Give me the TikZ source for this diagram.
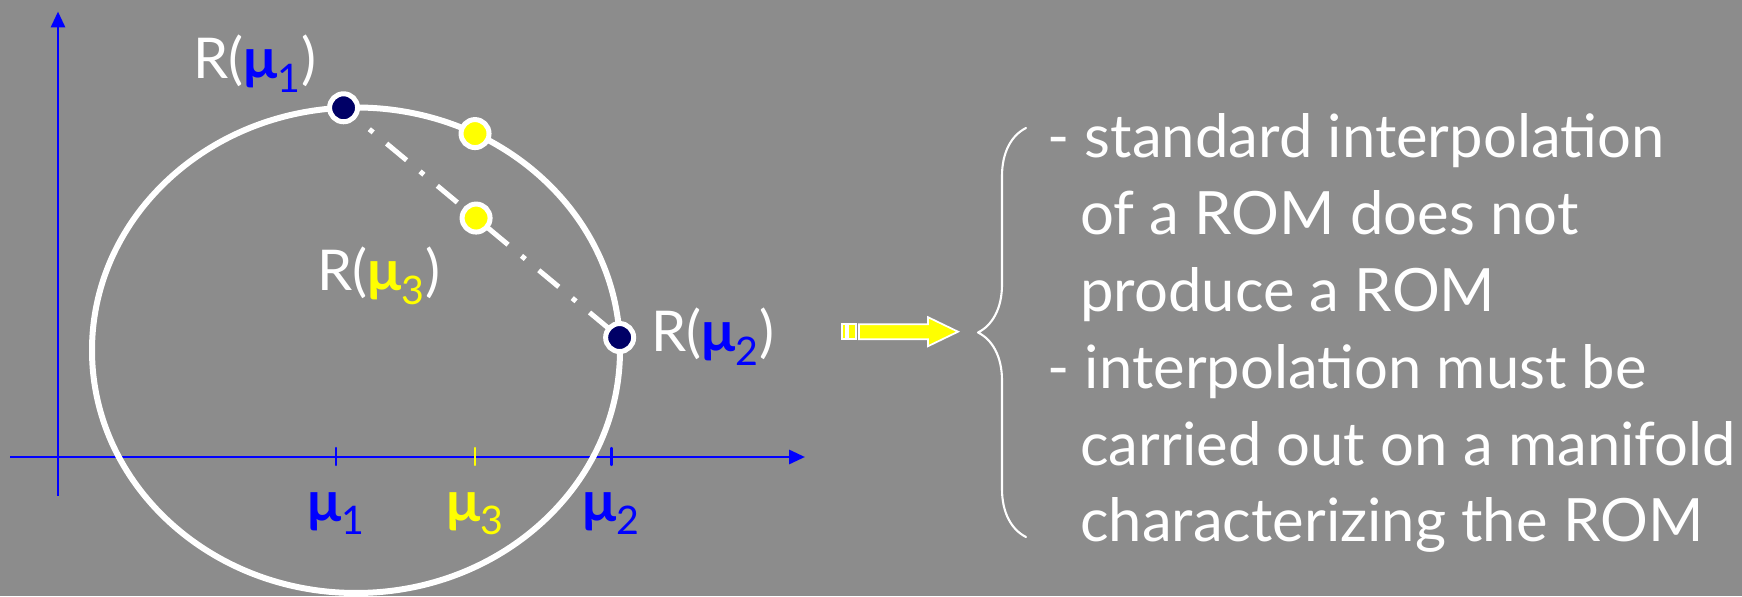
\documentclass[tikz,border=0pt]{standalone}
\usepackage{fontspec}
\setmainfont{Lato}
\usetikzlibrary{arrows.meta,decorations.pathreplacing,calc}

\definecolor{fon}{RGB}{140,140,140}
\definecolor{tochka}{RGB}{0,0,102}
\definecolor{siniy}{RGB}{0,0,255}
\definecolor{zhelt}{RGB}{255,255,0}

\newcommand{\bmu}{\textbf{μ}}

\begin{document}
\begin{tikzpicture}[
  line cap=round,
  line join=round,
  axis/.style={siniy,line width=1.7pt,line cap=butt,
    -{Triangle[length=0.32cm,width=0.28cm]}},
  dot/.style={circle,draw=white,line width=0.1cm,
    minimum size=0.56cm,inner sep=0pt},
  lbl/.style={white,inner sep=0pt,
    font=\fontsize{32}{38}\selectfont},
  txt/.style={white,inner sep=0pt,anchor=base west,
    font=\fontsize{34}{44}\selectfont}
]
  \def\a{5.28}
  \def\b{4.855}

  % Фон
  \fill[fon] (-1.16,-2.78) rectangle (33.68,9.14);
  \useasboundingbox (-1.16,-2.78) rectangle (33.68,9.14);

  % Оси
  \draw[axis] (0,-0.78) -- (0,8.91);
  \draw[axis] (-0.95,0) -- (14.94,0);

  % Деления
  \draw[siniy,line width=1.2pt] (5.56,-0.16) -- (5.56,0.18);
  \draw[zhelt,line width=1.2pt] (8.34,-0.16) -- (8.34,0.18);
  \draw[siniy,line width=1.2pt] (11.07,-0.16) -- (11.07,0.18);

  % Многообразие
  \coordinate (E) at (5.96,2.135);
  \draw[white,line width=0.12cm]
    (E) ellipse[x radius=\a,y radius=\b];

  \coordinate (P1) at ($(E)+(92.7:\a cm and \b cm)$);
  \coordinate (P2) at ($(E)+(3:\a cm and \b cm)$);
  \coordinate (Q)  at ($(E)+(63.2:\a cm and \b cm)$);
  \coordinate (P3) at ($(P1)!0.48!(P2)$);

  % Линейная интерполяция
  \draw[white,line width=0.1cm,line cap=butt,
    dash pattern=on 0.52cm off 0.35cm on 0.1cm off 0.35cm,
    dash phase=0.2cm]
    (P1) -- (P2);

  % Точки
  \node[dot,fill=tochka] (R1) at (P1) {};
  \node[dot,fill=tochka] (R2) at (P2) {};
  \node[dot,fill=zhelt]  (R3a) at (Q) {};
  \node[dot,fill=zhelt]  (R3) at (P3) {};

  % Подписи
  \node[lbl,anchor=base west] (L1) at (2.7,7.56)
    {R(\textcolor{siniy}{\bmu\textsubscript{1}})};
  \node[lbl,anchor=base west] (L3) at (5.18,3.32)
    {R(\textcolor{zhelt}{\bmu\textsubscript{3}})};
  \node[lbl,anchor=base west] (L2) at (11.86,2.10)
    {R(\textcolor{siniy}{\bmu\textsubscript{2}})};

  \node[lbl,anchor=base,siniy] (m1) at (5.56,-1.28)
    {\bmu\textsubscript{1}};
  \node[lbl,anchor=base,zhelt] (m3) at (8.34,-1.28)
    {\bmu\textsubscript{3}};
  \node[lbl,anchor=base,siniy] (m2) at (11.07,-1.28)
    {\bmu\textsubscript{2}};

  % Стрелка
  \draw[white,fill=zhelt,line width=1pt,line join=miter]
    (15.68,2.356) rectangle (15.76,2.656);
  \draw[white,fill=zhelt,line width=1pt,line join=miter]
    (15.80,2.356) rectangle (15.96,2.656);
  \draw[white,fill=zhelt,line width=1pt,line join=miter]
    (16.02,2.356) -- (17.40,2.356) -- (17.40,2.216)
    -- (18.0,2.506) -- (17.40,2.796) -- (17.40,2.656)
    -- (16.02,2.656) -- cycle;

  % Скобка
  \coordinate (bb) at (19.36,-1.6);
  \coordinate (bt) at (19.36,6.58);
  \draw[white,line width=1.2pt,decorate,
    decoration={brace,amplitude=0.96cm}]
    (bb) -- (bt);

  % Текст
  \node[txt] (t1) at (19.78,5.98) {- standard interpolation};
  \node[txt] (t2) at (20.44,4.44) {of a ROM does not};
  \node[txt] (t3) at (20.44,2.90) {produce a ROM};
  \node[txt] (t4) at (19.78,1.36) {- interpolation must be};
  \node[txt] (t5) at (20.44,-0.16) {carried out on a manifold};
  \node[txt] (t6) at (20.44,-1.70) {characterizing the ROM};
\end{tikzpicture}
\end{document}
